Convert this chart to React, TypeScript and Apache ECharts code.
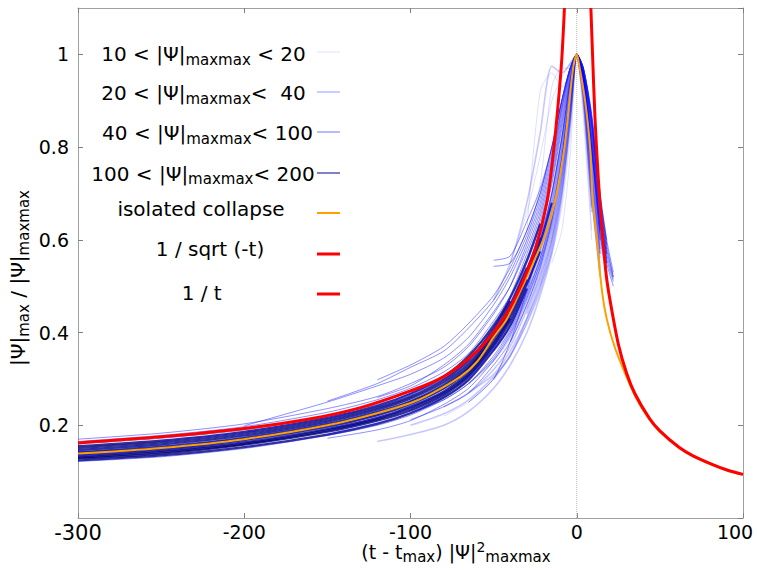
import React, { useEffect, useRef } from "react";
import * as echarts from "echarts";

// ---------------- data ----------------
// shared time grid for the normalised traces, (t - t_max)|psi|^2_maxmax
const T_GRID = [-300, -250, -200, -150, -120, -100, -80, -65, -50, -40, -30, -22, -15, -9, -4, 0, 4, 9, 14, 18, 22];
const n = null;

// 10 < |psi|maxmax < 20 (very light)
const GROUP_10_20: (number | null)[][] = [
  [n, n, n, n, n, n, n, n, n, 0.42, 0.5, 0.58, 0.68, 0.8, 0.93, 1, 0.96, 0.82, 0.64, 0.56, n],
  [n, n, n, n, n, n, n, n, n, n, 0.45, 0.52, 0.6, 0.7, 0.86, 1, 0.9, 0.68, 0.55, n, n],
  [n, n, n, n, n, n, n, n, n, 0.5, 0.6, 0.72, 0.93, 0.97, 0.97, 1, 0.95, 0.8, 0.62, n, n],
  [n, n, n, n, n, n, n, n, n, n, n, 0.5, 0.57, 0.67, 0.82, 1, 0.88, 0.62, n, n, n],
  [n, n, n, n, n, n, n, 0.3, 0.36, 0.4, 0.47, 0.55, 0.63, 0.75, 0.9, 1, 0.94, 0.78, 0.6, n, n],
  [n, n, n, n, n, n, n, n, n, n, n, n, 0.55, 0.62, 0.78, 1, 0.86, 0.6, n, n, n],
  [n, n, n, n, n, n, 0.22, 0.25, 0.3, 0.35, 0.42, 0.5, 0.6, 0.73, 0.88, 1, 0.93, 0.75, 0.58, n, n],
  [n, n, n, n, n, n, n, n, n, 0.55, 0.66, 0.78, 0.9, 0.95, 0.98, 1, 0.97, 0.85, 0.66, 0.57, n],
  [n, n, n, n, n, n, n, n, n, n, 0.62, 0.92, 0.96, 0.93, 0.96, 1, 0.95, 0.78, n, n, n],
];

// 20 < |psi|maxmax < 40 (light lavender)
const GROUP_20_40: (number | null)[][] = [
  [n, n, n, n, n, 0.2, 0.225, 0.255, 0.305, 0.35, 0.43, 0.51, 0.6, 0.72, 0.87, 1, 0.93, 0.72, 0.54, n, n],
  [n, n, n, n, n, n, 0.24, 0.27, 0.32, 0.37, 0.45, 0.53, 0.62, 0.74, 0.88, 1, 0.94, 0.75, 0.57, n, n],
  [n, n, n, n, n, n, n, 0.29, 0.34, 0.39, 0.47, 0.55, 0.64, 0.76, 0.9, 1, 0.92, 0.7, 0.52, n, n],
  [n, n, n, n, n, n, n, n, 0.36, 0.41, 0.49, 0.57, 0.67, 0.79, 0.92, 1, 0.95, 0.78, 0.6, 0.53, n],
  [n, n, n, n, n, n, n, n, 0.3, 0.35, 0.42, 0.49, 0.58, 0.7, 0.85, 1, 0.9, 0.66, n, n, n],
  [n, n, n, 0.19, 0.215, 0.24, 0.27, 0.305, 0.365, 0.415, 0.5, 0.58, 0.68, 0.8, 0.93, 1, 0.96, 0.8, 0.62, 0.55, n],
  [n, n, n, n, n, n, n, n, 0.47, 0.55, 0.68, 0.83, 0.975, 0.96, 0.98, 1, 0.93, 0.74, 0.57, n, n],
  [n, n, n, n, n, n, n, n, n, 0.38, 0.46, 0.54, 0.63, 0.75, 0.89, 1, 0.93, 0.73, 0.56, n, n],
  [n, n, n, n, n, n, n, n, n, n, 0.44, 0.52, 0.61, 0.73, 0.87, 1, 0.92, 0.71, n, n, n],
  [n, n, n, n, n, 0.23, 0.26, 0.3, 0.37, 0.43, 0.51, 0.59, 0.69, 0.81, 0.93, 1, 0.96, 0.82, 0.64, 0.57, n],
  [n, n, n, n, n, n, n, 0.27, 0.31, 0.36, 0.43, 0.5, 0.59, 0.71, 0.86, 1, 0.91, 0.69, 0.53, n, n],
  [n, n, n, n, 0.165, 0.18, 0.2, 0.23, 0.28, 0.33, 0.4, 0.48, 0.57, 0.69, 0.85, 1, 0.9, 0.67, n, n, n],
  [n, n, n, n, n, n, n, n, n, n, 0.5, 0.58, 0.66, 0.78, 0.91, 1, 0.94, 0.76, 0.58, n, n],
  [n, n, n, n, n, n, n, n, n, 0.45, 0.53, 0.6, 0.7, 0.82, 0.94, 1, 0.95, 0.79, 0.6, n, n],
];

// 40 < |psi|maxmax < 100 (medium blue)
const GROUP_40_100: (number | null)[][] = [
  [0.165, 0.178, 0.197, 0.228, 0.255, 0.28, 0.315, 0.355, 0.425, 0.48, 0.57, 0.65, 0.75, 0.87, 0.96, 1, 0.96, 0.85, 0.68, 0.58, 0.52],
  [0.17, 0.183, 0.203, 0.236, 0.262, 0.29, 0.325, 0.37, 0.44, 0.5, 0.59, 0.67, 0.77, 0.885, 0.965, 1, 0.97, 0.87, 0.7, 0.6, 0.53],
  [0.122, 0.132, 0.15, 0.178, 0.2, 0.222, 0.255, 0.29, 0.35, 0.405, 0.485, 0.56, 0.65, 0.77, 0.91, 1, 0.95, 0.8, 0.63, 0.55, n],
  [n, n, 0.199, 0.25, 0.285, 0.31, 0.345, 0.39, 0.46, 0.52, 0.6, 0.68, 0.78, 0.89, 0.97, 1, 0.97, 0.86, 0.69, 0.59, 0.52],
  [n, n, n, 0.252, 0.29, 0.325, 0.36, 0.41, 0.47, 0.53, 0.61, 0.69, 0.79, 0.9, 0.97, 1, 0.965, 0.85, 0.67, 0.57, n],
  [n, n, n, n, 0.298, 0.33, 0.37, 0.42, 0.48, 0.54, 0.62, 0.7, 0.8, 0.9, 0.97, 1, 0.97, 0.86, 0.68, 0.58, n],
  [n, n, n, 0.18, 0.205, 0.227, 0.255, 0.29, 0.345, 0.4, 0.48, 0.56, 0.66, 0.78, 0.92, 1, 0.95, 0.8, 0.62, 0.54, n],
  [n, n, n, 0.172, 0.19, 0.21, 0.245, 0.28, 0.34, 0.395, 0.475, 0.55, 0.645, 0.77, 0.91, 1, 0.95, 0.79, 0.61, 0.53, n],
  [n, n, n, n, n, n, n, n, 0.556, 0.565, 0.64, 0.71, 0.8, 0.9, 0.97, 1, 0.97, 0.87, 0.7, 0.6, n],
  [n, n, n, n, n, n, n, n, 0.543, 0.55, 0.62, 0.7, 0.8, 0.9, 0.97, 1, 0.96, 0.85, 0.67, n, n],
  [n, n, n, n, n, n, n, 0.25, 0.3, 0.38, 0.49, 0.59, 0.7, 0.82, 0.94, 1, 0.95, 0.82, 0.64, 0.55, n],
  [n, n, n, n, n, 0.212, 0.24, 0.27, 0.33, 0.38, 0.46, 0.54, 0.64, 0.77, 0.91, 1, 0.95, 0.8, 0.62, n, n],
  [0.16, 0.172, 0.19, 0.22, 0.245, 0.268, 0.3, 0.34, 0.41, 0.465, 0.55, 0.63, 0.73, 0.85, 0.95, 1, 0.96, 0.84, 0.66, 0.56, 0.51],
  [n, n, n, n, 0.26, 0.285, 0.33, 0.375, 0.445, 0.5, 0.58, 0.66, 0.76, 0.88, 0.965, 1, 0.97, 0.86, 0.69, 0.59, n],
  [n, 0.165, 0.185, 0.215, 0.24, 0.265, 0.3, 0.345, 0.42, 0.475, 0.56, 0.64, 0.74, 0.86, 0.955, 1, 0.96, 0.845, 0.67, 0.57, 0.515],
  [0.145, 0.157, 0.176, 0.206, 0.232, 0.256, 0.29, 0.33, 0.4, 0.455, 0.54, 0.62, 0.72, 0.84, 0.945, 1, 0.96, 0.83, 0.65, 0.56, n],
  [0.135, 0.147, 0.165, 0.195, 0.22, 0.243, 0.278, 0.318, 0.385, 0.44, 0.525, 0.605, 0.7, 0.82, 0.94, 1, 0.955, 0.82, 0.64, 0.55, 0.5],
];

// 100 < |psi|maxmax < 200 (dark)
const GROUP_100_200: (number | null)[][] = [
  [0.128, 0.139, 0.158, 0.186, 0.21, 0.232, 0.265, 0.305, 0.37, 0.425, 0.505, 0.575, n, n, n, n, n, n, n, n, n],
  [0.133, 0.145, 0.163, 0.192, 0.216, 0.24, 0.273, 0.313, 0.38, 0.435, 0.515, n, n, n, n, n, n, n, n, n, n],
  [0.137, 0.149, 0.168, 0.197, 0.222, 0.246, 0.28, 0.32, 0.388, 0.445, 0.525, 0.595, 0.68, n, n, n, n, n, n, n, n],
  [0.142, 0.154, 0.173, 0.203, 0.229, 0.252, 0.287, 0.327, 0.395, 0.455, 0.535, 0.605, n, n, n, n, n, n, n, n, n],
  [0.147, 0.159, 0.178, 0.208, 0.234, 0.258, 0.293, 0.333, 0.4, 0.46, 0.54, n, n, n, n, n, n, n, n, n, n],
  [0.151, 0.163, 0.182, 0.212, 0.238, 0.262, 0.298, 0.34, 0.408, 0.468, n, n, n, n, n, n, n, n, n, n, n],
  [0.124, 0.135, 0.153, 0.18, 0.203, 0.226, 0.26, 0.298, 0.362, 0.415, 0.495, n, n, n, n, n, n, n, n, n, n],
  [0.155, 0.167, 0.186, 0.216, 0.242, 0.268, 0.305, 0.35, 0.415, 0.475, 0.555, 0.635, n, n, n, n, n, n, n, n, n],
  [0.13, 0.142, 0.16, 0.189, 0.213, 0.236, 0.269, 0.309, 0.375, 0.43, n, n, n, n, n, n, n, n, n, n, n],
  [0.14, 0.151, 0.17, 0.2, 0.225, 0.249, 0.283, 0.323, 0.39, 0.45, 0.53, n, n, n, n, n, n, n, n, n, n],
];

// isolated collapse
const ISOLATED_T = [-300, -250, -200, -150, -120, -100, -88.6, -70, -60, -50, -42, -34.4, -25, -18.4, -12.8, -7.4, -4.4, -2, 0, 1.6, 5, 8, 9.6, 11.7, 15.3, 18, 22.7, 30.7, 37, 43.7, 50, 61.7, 70, 81.8, 90, 100];
const ISOLATED_V = [0.139, 0.151, 0.17, 0.2, 0.226, 0.248, 0.266, 0.305, 0.337, 0.39, 0.43, 0.486, 0.56, 0.615, 0.687, 0.8, 0.9, 0.974, 1, 0.974, 0.9, 0.8, 0.687, 0.615, 0.486, 0.43, 0.37, 0.298, 0.25, 0.213, 0.186, 0.151, 0.133, 0.114, 0.103, 0.093];

// 1 / sqrt(-t)
const SQRT_T = [-300, -250, -200, -160, -130, -100, -80, -60, -45, -35, -25, -18, -14, -11, -9, -7.4];
const SQRT_V = [0.162, 0.175, 0.193, 0.214, 0.238, 0.274, 0.305, 0.36, 0.425, 0.49, 0.58, 0.68, 0.79, 0.9, 0.99, 1.1];

// 1 / t
const INV_T = [8.5, 9.5, 11, 13, 15, 17.7, 20, 25, 30, 35, 43.7, 50, 61.7, 70, 81.8, 90, 100];
const INV_V = [1.1, 1.0, 0.86, 0.73, 0.63, 0.525, 0.47, 0.375, 0.312, 0.268, 0.215, 0.188, 0.152, 0.134, 0.115, 0.104, 0.094];

const ZERO_LINE = [[0, 0], [0, 1.1]];

// ---------------- styles ----------------
const FONT = "DejaVu Sans";
const C_A = "rgba(0,0,255,0.13)";
const C_B = "rgba(0,0,255,0.22)";
const C_C = "rgba(20,20,255,0.48)";
const C_D = "rgba(0,0,125,0.8)";
const C_ORANGE = "#ffa000";
const C_RED = "#ff0000";

const gridPts = (vals: (number | null)[]) =>
  T_GRID.map((t, i) => [t, vals[i]]).filter((p) => p[1] != null);
const zip = (ts: number[], vs: number[]) => ts.map((t, i) => [t, vs[i]]);

const lineSeries = (data: any[], color: string, width: number, z: number, smooth: number | boolean = 0.25, type = "solid") => ({
  type: "line",
  data,
  symbol: "none",
  showSymbol: false,
  smooth,
  silent: true,
  z,
  lineStyle: { color, width, type },
  itemStyle: { color },
  emphasis: { disabled: true },
});

const rich = {
  n: { fontSize: 20, fontFamily: FONT, lineHeight: 26, verticalAlign: "middle", color: "#000" },
  s: { fontSize: 15, fontFamily: FONT, lineHeight: 20, verticalAlign: "bottom", color: "#000" },
  ys: { fontSize: 15, fontFamily: FONT, lineHeight: 14, verticalAlign: "bottom", color: "#000" },
  xn: { fontSize: 19, fontFamily: FONT, lineHeight: 24, verticalAlign: "middle", color: "#000" },
  xs: { fontSize: 15, fontFamily: FONT, lineHeight: 16, verticalAlign: "bottom", color: "#000" },
  xp: { fontSize: 14, fontFamily: FONT, lineHeight: 14, verticalAlign: "top", color: "#000" },
};

const LEGEND_ROWS = [
  { text: "{n|10 < |Ψ|}{s|maxmax}{n| < 20}", cx: 203.5, ty: 54, ly: 52, color: C_A, w: 1 },
  { text: "{n|20 < |Ψ|}{s|maxmax}{n|<  40}", cx: 203.5, ty: 93, ly: 92, color: "rgba(0,0,255,0.2)", w: 2 },
  { text: "{n|40 < |Ψ|}{s|maxmax}{n|< 100}", cx: 207.5, ty: 133, ly: 132, color: "rgba(0,0,255,0.55)", w: 1 },
  { text: "{n|100 < |Ψ|}{s|maxmax}{n|< 200}", cx: 203, ty: 173.5, ly: 173, color: "rgba(0,0,150,0.5)", w: 2 },
  { text: "{n|isolated collapse}", cx: 201, ty: 208.5, ly: 213, color: C_ORANGE, w: 2 },
  { text: "{n|1 / sqrt (-t)}", cx: 210, ty: 249, ly: 254, color: C_RED, w: 3 },
  { text: "{n|1 / t}", cx: 201.7, ty: 293, ly: 294, color: C_RED, w: 3 },
];

function buildOption() {
  const series: any[] = [];
  series.push(lineSeries(ZERO_LINE, "#b4b4b4", 1, 1, false, "dotted"));
  GROUP_100_200.forEach((v) => series.push(lineSeries(gridPts(v), C_D, 2.2, 2)));
  GROUP_40_100.forEach((v) => series.push(lineSeries(gridPts(v), C_C, 1, 3)));
  GROUP_20_40.forEach((v) => series.push(lineSeries(gridPts(v), C_B, 1.6, 4)));
  GROUP_10_20.forEach((v) => series.push(lineSeries(gridPts(v), C_A, 1, 5)));
  series.push(lineSeries(zip(ISOLATED_T, ISOLATED_V), C_ORANGE, 2, 6, 0.3));
  series.push(lineSeries(zip(SQRT_T, SQRT_V), C_RED, 3, 7, 0.3));
  series.push(lineSeries(zip(INV_T, INV_V), C_RED, 3, 7, 0.3));

  const axisLineStyle = { color: "#a0a0a0", width: 1 };
  const tick = { show: true, inside: true, length: 5, lineStyle: { color: "#808080", width: 1 } };

  const graphics: any[] = [];
  LEGEND_ROWS.forEach((r) => {
    graphics.push({
      type: "text",
      x: r.cx,
      y: r.ty,
      silent: true,
      style: { text: r.text, rich, align: "center", verticalAlign: "middle", fill: "#000" },
    });
    graphics.push({
      type: "line",
      silent: true,
      shape: { x1: 317, y1: r.ly, x2: 340, y2: r.ly },
      style: { stroke: r.color, lineWidth: r.w },
    });
  });
  // y-axis title
  graphics.push({
    type: "text",
    x: 18,
    y: 278,
    rotation: Math.PI / 2,
    silent: true,
    style: {
      text: "{n||Ψ|}{ys|max}{n| / |Ψ|}{ys|maxmax}",
      rich,
      align: "center",
      verticalAlign: "middle",
      fill: "#000",
    },
  });
  // x-axis title
  graphics.push({
    type: "text",
    x: 456,
    y: 552,
    silent: true,
    style: {
      text: "{xn|(t - t}{xs|max}{xn|) |Ψ|}{xp|2}{xs|maxmax}",
      rich,
      align: "center",
      verticalAlign: "middle",
      fill: "#000",
    },
  });

  return {
    animation: false,
    backgroundColor: "#ffffff",
    grid: { left: 78, right: 14, top: 8, bottom: 52, containLabel: false, outerBoundsMode: "none", show: false },
    xAxis: [
      {
        type: "value",
        position: "bottom",
        min: -300,
        max: 100,
        interval: 100,
        axisLine: { show: true, onZero: false, lineStyle: axisLineStyle },
        axisTick: tick,
        splitLine: { show: false },
        axisLabel: {
          color: "#000",
          fontFamily: FONT,
          fontSize: 19,
          margin: 4,
          formatter: (v: number) => (v === -300 ? "{big|-300}" : v === 100 ? "{r|100}" : String(v)),
          rich: {
            big: { fontSize: 21, fontFamily: FONT, color: "#000" },
            r: { fontSize: 19, fontFamily: FONT, color: "#000", padding: [0, 16, 0, 0] },
          },
        },
      },
      {
        type: "value",
        position: "top",
        min: -300,
        max: 100,
        interval: 100,
        axisLine: { show: true, onZero: false, lineStyle: axisLineStyle },
        axisTick: tick,
        splitLine: { show: false },
        axisLabel: { show: false },
      },
    ],
    yAxis: [
      {
        type: "value",
        position: "left",
        min: 0,
        max: 1.1,
        interval: 0.2,
        axisLine: { show: true, onZero: false, lineStyle: axisLineStyle },
        axisTick: tick,
        splitLine: { show: false },
        axisLabel: {
          color: "#000",
          fontFamily: FONT,
          fontSize: 19,
          margin: 9,
          showMinLabel: false,
          showMaxLabel: false,
          formatter: (v: number) => (v < 0.05 || v > 1.05 ? "" : String(Math.round(v * 10) / 10)),
        },
      },
      {
        type: "value",
        position: "right",
        min: 0,
        max: 1.1,
        interval: 0.2,
        axisLine: { show: true, onZero: false, lineStyle: axisLineStyle },
        axisTick: tick,
        splitLine: { show: false },
        axisLabel: { show: false },
      },
    ],
    series,
    graphic: graphics,
  };
}

export default function App() {
  const ref = useRef<HTMLDivElement>(null);
  useEffect(() => {
    if (!ref.current) return;
    const chart = echarts.init(ref.current, null, { renderer: "svg" });
    chart.setOption(buildOption() as any);
    return () => chart.dispose();
  }, []);
  return (
    <div
      ref={ref}
      style={{ position: "fixed", left: 0, top: 0, width: 757, height: 570, background: "#fff" }}
    />
  );
}
